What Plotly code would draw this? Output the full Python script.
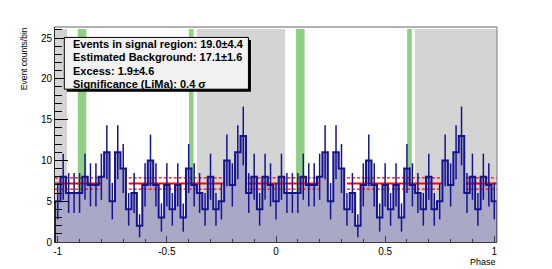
import numpy as np
import plotly.graph_objects as go

# ---------------- data ----------------
# counts per bin over one phase period (bins of 0.025 centred on k*0.025)
counts_period = [5, 8, 6, 6, 6, 8, 7, 7, 8, 11,
                 5, 11, 9, 4, 6, 2, 7, 10, 7, 3,
                 7, 4, 7, 3, 9, 7, 6, 4, 8, 4,
                 5, 10, 7, 11, 13, 6, 8, 4, 8, 7]
bin_width = 0.025
# phaseogram is shown over two periods (-1 .. 1), 81 bins
counts = counts_period * 2 + counts_period[:1]
phase_centres = np.round(-1 + bin_width * np.arange(len(counts)), 4)

bkg_level = 7.17
bkg_err = 0.68
# phase intervals where the background level line is drawn
bkg_segments = [(-1.0125, -0.80), (-0.675, -0.24), (-0.13, 0.20), (0.325, 0.76), (0.87, 1.0125)]
off_regions = [(-1.36, -0.957), (-0.362, 0.042), (0.637, 1.04)]
signal_regions = [(-0.908, -0.869), (-0.399, -0.378), (0.092, 0.131), (0.601, 0.622)]

stats_lines = ["Events in signal region: 19.0\u00b14.4",
               "Estimated Background: 17.1\u00b11.6",
               "Excess: 1.9\u00b14.6",
               "Significance (LiMa): 0.4 \u03c3"]
y_ticks = [0, 5, 10, 15, 20, 25]
x_ticks = [-1, -0.5, 0, 0.5, 1]
x_ticktext = ["-1", "-0.5", "0", "0.5", "1"]

# ---------------- geometry ----------------
W, H = 552, 269
OFF = 8  # page body margin of the html page
PL, PR, PT, PB = 55.0, 496.7, 27.3, 241.7  # plot frame in window pixels
L = PL - OFF
T = PT - OFF
R = W - (PR - OFF)
B = H - (PB - OFF)
XR = [-1.0125, 1.0125]
YR = [0, 26.35]
FONT = "Liberation Sans"

def px_x(px):
    return (px - PL) / (PR - PL)

def px_y(py):
    return (PB - py) / (PB - PT)

centres = np.array(phase_centres)
vals = np.array(counts, dtype=float)
edges = np.concatenate([centres - bin_width / 2, [centres[-1] + bin_width / 2]])
step_x = np.concatenate([[edges[0]], np.repeat(edges, 2)[1:-1], [edges[-1]]])
step_y = np.concatenate([[0], np.repeat(vals, 2), [0]])

fig = go.Figure()

# filled histogram
fig.add_trace(go.Scatter(x=step_x, y=step_y, mode="lines", fill="tozeroy",
                         fillcolor="rgb(170,168,199)", line=dict(width=0),
                         hoverinfo="skip", showlegend=False))

# background level lines
def seg_xy(level):
    xs, ys = [], []
    for a, b in bkg_segments:
        xs += [a, b, None]
        ys += [level, level, None]
    return xs, ys

for lvl, dash, wdt in [(bkg_level, "solid", 2.2), (bkg_level + bkg_err, "3px,2px", 1.3),
                       (bkg_level - bkg_err, "3px,2px", 1.3)]:
    xs, ys = seg_xy(lvl)
    fig.add_trace(go.Scatter(x=xs, y=ys, mode="lines",
                             line=dict(color="rgb(255,0,0)", width=wdt, dash=dash),
                             hoverinfo="skip", showlegend=False))

# histogram outline
fig.add_trace(go.Scatter(x=step_x, y=step_y, mode="lines",
                         line=dict(color="rgb(20,20,145)", width=2),
                         hoverinfo="skip", showlegend=False))
# error bars
fig.add_trace(go.Scatter(x=centres, y=vals, mode="markers",
                         marker=dict(size=1, color="rgba(0,0,0,0)"),
                         error_y=dict(type="data", array=np.sqrt(vals), width=0,
                                      thickness=1.5, color="rgb(20,20,145)"),
                         hoverinfo="skip", showlegend=False))

shapes = []
for a, b in off_regions:
    shapes.append(dict(type="rect", xref="x", yref="y", x0=a, x1=b, y0=0, y1=26.1,
                       fillcolor="rgb(212,212,212)", line=dict(width=0), layer="below"))
for a, b in signal_regions:
    shapes.append(dict(type="rect", xref="x", yref="y", x0=a, x1=b, y0=0, y1=26.1,
                       fillcolor="rgb(144,208,130)", line=dict(width=0), layer="below"))
# frame top / right
shapes.append(dict(type="line", xref="paper", yref="paper", x0=0, x1=1, y0=1, y1=1,
                   line=dict(color="rgb(100,100,100)", width=1.2)))
shapes.append(dict(type="line", xref="paper", yref="paper", x0=1, x1=1, y0=0, y1=1,
                   line=dict(color="rgb(140,140,140)", width=1.2)))
# stats box shadow + box
shapes.append(dict(type="rect", xref="paper", yref="paper",
                   x0=px_x(66.8), x1=px_x(250.8), y0=px_y(91.8), y1=px_y(40.2),
                   fillcolor="black", line=dict(width=0), layer="above"))
shapes.append(dict(type="rect", xref="paper", yref="paper",
                   x0=px_x(64.3), x1=px_x(248.3), y0=px_y(89.3), y1=px_y(37.7),
                   fillcolor="rgb(242,242,242)", line=dict(color="black", width=1), layer="above"))

annotations = []
for i, txt in enumerate(stats_lines):
    annotations.append(dict(xref="paper", yref="paper", x=px_x(70.5), y=px_y(44 + 13.4 * i),
                            xanchor="left", yanchor="middle", showarrow=False,
                            text="<b>" + txt + "</b>",
                            font=dict(family=FONT, size=11, color="black")))
annotations.append(dict(xref="paper", yref="paper", x=px_x(23.5), y=px_y(59),
                        textangle=-90, showarrow=False, xanchor="center", yanchor="middle",
                        text="Event counts/bin", font=dict(family=FONT, size=8.5, color="black")))
annotations.append(dict(xref="paper", yref="paper", x=px_x(498), y=px_y(261.5),
                        showarrow=False, xanchor="right", yanchor="middle",
                        text="Phase", font=dict(family=FONT, size=9, color="black")))

fig.update_layout(
    width=W, height=H, margin=dict(l=L, r=R, t=T, b=B),
    paper_bgcolor="white", plot_bgcolor="white",
    shapes=shapes, annotations=annotations, showlegend=False,
    xaxis=dict(range=XR, showgrid=False, zeroline=False, showline=True,
               linecolor="rgb(60,60,60)", linewidth=1,
               tickmode="array", tickvals=x_ticks, ticktext=x_ticktext,
               ticks="inside", ticklen=6, tickwidth=1, tickcolor="rgb(60,60,60)",
               minor=dict(tickmode="linear", tick0=-1, dtick=0.1, ticks="inside",
                          ticklen=3, tickwidth=1, tickcolor="rgb(60,60,60)", showgrid=False),
               tickfont=dict(family=FONT, size=10, color="black")),
    yaxis=dict(range=YR, showgrid=False, zeroline=False, showline=True,
               linecolor="rgb(40,40,40)", linewidth=1,
               tickmode="array", tickvals=y_ticks,
               ticks="inside", ticklen=13, tickwidth=1, tickcolor="black",
               minor=dict(tickmode="linear", tick0=0, dtick=1, ticks="inside",
                          ticklen=7, tickwidth=1, tickcolor="black", showgrid=False),
               tickfont=dict(family=FONT, size=10, color="black")),
)

fig.write_html("out.html")
